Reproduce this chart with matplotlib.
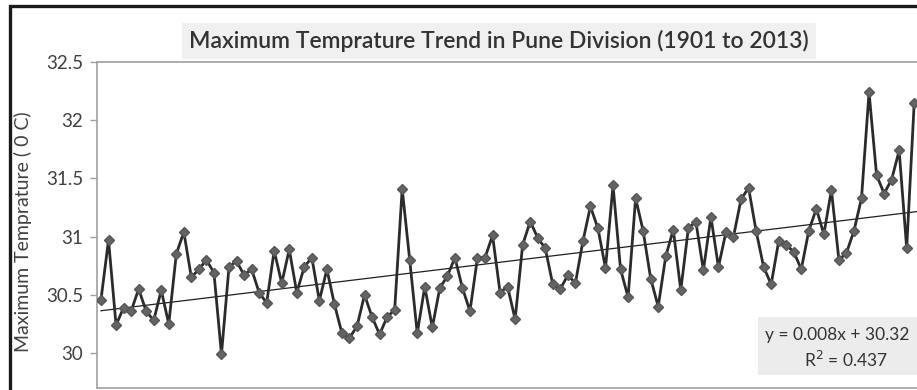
import numpy as np
import matplotlib
matplotlib.use('Agg')
import matplotlib.pyplot as plt
from matplotlib.patches import Rectangle

plt.rcParams['font.family'] = ['Lato', 'DejaVu Sans']

# annual maximum temperature, Pune division (1901-2009 visible)
years = list(range(1901, 2010))
tmax = [30.46, 30.97, 30.24, 30.39, 30.36, 30.55, 30.36, 30.28, 30.54, 30.25,
        30.85, 31.04, 30.65, 30.72, 30.80, 30.69, 29.99, 30.74, 30.79, 30.67,
        30.72, 30.52, 30.43, 30.88, 30.60, 30.89, 30.52, 30.74, 30.82, 30.45,
        30.72, 30.42, 30.17, 30.13, 30.23, 30.50, 30.31, 30.16, 30.31, 30.37,
        31.41, 30.80, 30.17, 30.57, 30.22, 30.56, 30.66, 30.82, 30.56, 30.36,
        30.82, 30.82, 31.01, 30.52, 30.57, 30.29, 30.93, 31.13, 30.99, 30.90,
        30.59, 30.55, 30.67, 30.60, 30.96, 31.26, 31.07, 30.73, 31.44, 30.72,
        30.48, 31.33, 31.05, 30.64, 30.40, 30.83, 31.06, 30.54, 31.07, 31.13,
        30.71, 31.17, 30.74, 31.04, 31.00, 31.32, 31.42, 31.05, 30.74, 30.59,
        30.96, 30.93, 30.87, 30.72, 31.05, 31.24, 31.02, 31.40, 30.80, 30.86,
        31.05, 31.33, 32.24, 31.53, 31.37, 31.49, 31.74, 30.90, 32.15]
yticks = [30, 30.5, 31, 31.5, 32, 32.5]
ytick_labels = ['30', '30.5', '31', '31.5', '32', '32.5']
title = 'Maximum Temprature Trend in Pune Division (1901 to 2013)'
ylabel = 'Maximum Temprature ( 0 C)'
eq_text = 'y = 0.008x + 30.32'
r2_text = 'R$^2$ = 0.437'

W, H = 917, 390
fig = plt.figure(figsize=(W / 100, H / 100), dpi=100)

# outer chart frame (runs off the right and bottom edges like the cropped original)
fig.patches.append(Rectangle((10 / W, -0.2), 1.2, 1.2 - 6 / H, transform=fig.transFigure,
                             fill=False, edgecolor='#1a1a1a', linewidth=2.4))

ax = fig.add_axes([97 / W, 2 / H, (W - 97) / W, (388 - 62) / H])
x = np.array(years)
y = np.array(tmax)
ax.plot(x, y, color='#2b2b2b', lw=2.0, marker='D', markersize=5.5,
        markerfacecolor='#646464', markeredgecolor='#555555', zorder=3)

idx = x - 1900
coef = np.polyfit(idx, y, 1)
xt = np.arange(1901, 2014)
ax.plot(xt, np.polyval(coef, xt - 1900), color='#202020', lw=0.9, zorder=2)

ax.set_xlim(1900.47, 2009.37)
ax.set_ylim(29.70, 32.5)
ax.set_yticks(yticks)
ax.set_yticklabels(ytick_labels)
ax.set_xticks([])
ax.tick_params(axis='y', direction='out', length=5, width=1, color='#a0a0a0',
               labelsize=13.5, labelcolor='#404040', pad=5)
for s in ['left', 'top', 'bottom']:
    ax.spines[s].set_color('#a0a0a0')
    ax.spines[s].set_linewidth(1.2)
ax.spines['right'].set_visible(False)

fig.text(23 / W, 1 - 232 / H, ylabel, rotation=90, ha='center', va='center',
         fontsize=14, color='#404040')

fig.text(499 / W, 1 - 41 / H, title, ha='center', va='center', fontsize=16.5,
         fontweight='semibold', color='#333333',
         bbox=dict(boxstyle='square,pad=0.3', facecolor='#f0f0f0', edgecolor='none'))

# trendline label box
fig.patches.append(Rectangle((758 / W, 1 - 375 / H), 0.2, 58 / H, transform=fig.transFigure,
                             facecolor='#ececec', edgecolor='none', zorder=4))
fig.text(765 / W, 1 - 335 / H, eq_text, ha='left', va='center', fontsize=12.5,
         color='#333333', zorder=5)
fig.text(846 / W, 1 - 360 / H, r2_text, ha='center', va='center', fontsize=12.5,
         color='#333333', zorder=5)

fig.savefig('out.png', dpi=100)
